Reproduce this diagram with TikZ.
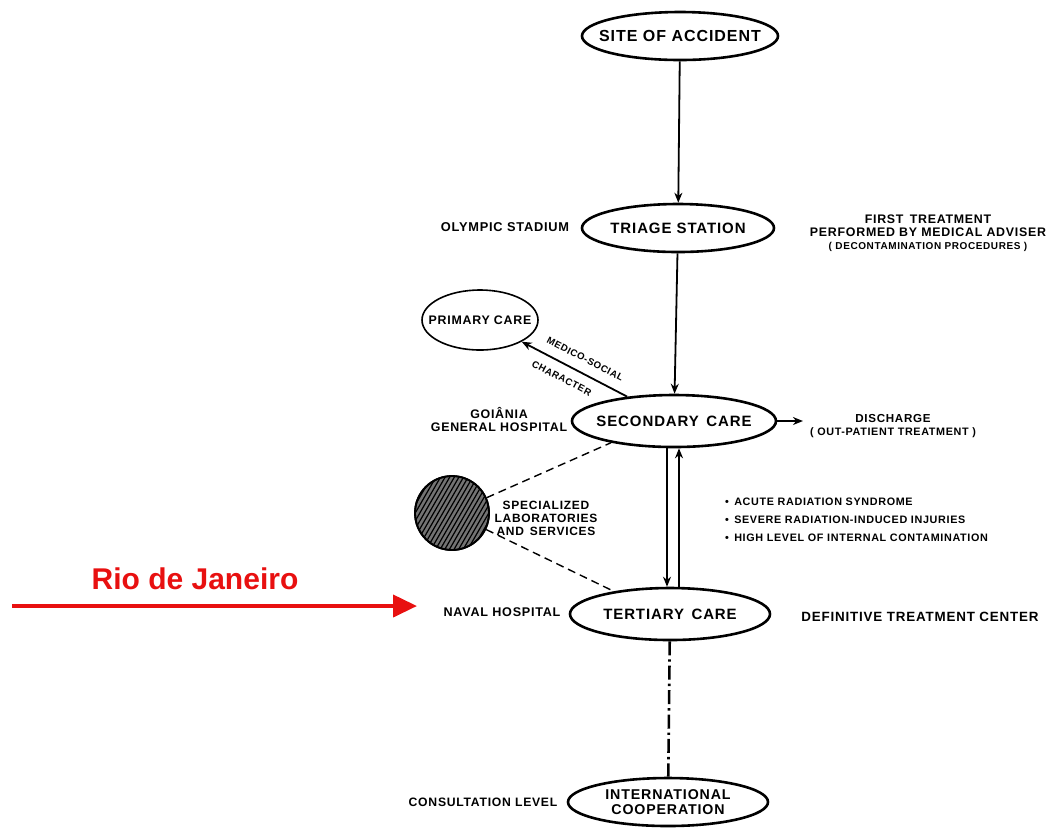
\documentclass[tikz,border=0pt]{standalone}
\usepackage{fontspec}
\setmainfont{Liberation Sans}[LetterSpace=6]
\newfontfamily\riofont{Liberation Sans}
\usetikzlibrary{shapes.geometric,arrows.meta}
\definecolor{rioRed}{RGB}{232,16,16}
\newcommand{\fs}[2]{\fontsize{#1}{#2}\selectfont\bfseries}

\begin{document}
\begin{tikzpicture}[x=0.5pt,y=-0.5pt,
    stage/.style={ellipse,draw,line width=1.3pt,inner xsep=-12pt,inner ysep=0pt,font=\fs{7.5}{7.5},align=center},
    side/.style={font=\fs{6.4}{6.6},align=center},
    flow/.style={line width=0.9pt,-{Stealth[length=5pt,width=4pt]}},
    link/.style={line width=0.7pt,dash pattern=on 4pt off 2.5pt}]
  \useasboundingbox (0,0) rectangle (1047,827);

  \node[stage,minimum width=98pt,minimum height=24pt,font=\fs{8}{8}] (site) at (680,36) {SITE OF ACCIDENT};
  \node[stage,minimum width=96pt,minimum height=24pt] (triage) at (678,228) {TRIAGE STATION};
  \node[stage,minimum width=102pt,minimum height=26pt] (sec) at (674,421) {SECONDARY\enspace CARE};
  \node[stage,minimum width=100pt,minimum height=26pt] (tert) at (670,614) {TERTIARY\enspace CARE};
  \node[stage,minimum width=100pt,minimum height=24pt,font=\fs{7.1}{7.4}] (intl) at (668,802) {INTERNATIONAL\\COOPERATION};
  \node[stage,line width=0.8pt,minimum width=58pt,minimum height=30pt,font=\fs{6.2}{6.2}] (prim) at (480,320) {PRIMARY CARE};
  \node[circle,draw,line width=0.9pt,minimum size=37pt,fill=black!55] (lab) at (452,513) {};

  \begin{scope}
    \clip (lab.center) circle (18.5pt);
    \foreach \k in {-14,...,14}
      \draw[line width=0.6pt] ([xshift=\k*2.3pt]lab.center) +(60:-30pt) -- +(60:30pt);
  \end{scope}
  \draw[line width=0.9pt] (lab.center) circle (18.5pt);

  \node[side] (olym) at (505,227) {OLYMPIC STADIUM};
  \node[side,font=\fs{6.2}{6.6}] (first) at (928,233) {FIRST\enspace TREATMENT\\PERFORMED BY MEDICAL ADVISER\\{\fs{5}{6.6}( DECONTAMINATION PROCEDURES )}};
  \node[side,font=\fs{6.2}{6.5}] (goia) at (499,419) {GOIÂNIA\\GENERAL HOSPITAL};
  \node[side,font=\fs{5.8}{6.5}] (dis) at (893,426) {DISCHARGE\\{\fs{5.4}{6.5}( OUT-PATIENT TREATMENT )}};
  \node[side,font=\fs{6}{6.5}] (labtxt) at (546,518) {SPECIALIZED\\LABORATORIES\\AND\enspace SERVICES};
  \node[side,font=\fs{5.4}{9},align=left,anchor=west] (list) at (718,520)
    {\textbullet\enspace ACUTE RADIATION SYNDROME\\\textbullet\enspace SEVERE RADIATION-INDUCED INJURIES\\\textbullet\enspace HIGH LEVEL OF INTERNAL CONTAMINATION};
  \node[side,font=\fs{6.3}{6.6}] (naval) at (502,612) {NAVAL HOSPITAL};
  \node[side,font=\fs{6.7}{6.6}] (defin) at (920,617) {DEFINITIVE TREATMENT CENTER};
  \node[side,font=\fs{6.1}{6.6}] (consult) at (483,802) {CONSULTATION LEVEL};
  \node[font=\riofont\fontsize{15}{15}\selectfont\bfseries,text=rioRed] (rio) at (195,579) {Rio de Janeiro};

  \coordinate (rioA) at (12,606);
  \coordinate (rioB) at (417,606);

  \draw[flow] (site) -- (triage);
  \draw[flow] (triage) -- (sec);
  \draw[flow] (sec) -- node[sloped,above=1.5pt,pos=0.46,font=\fs{4.8}{5}] (medsoc) {MEDICO-SOCIAL}
    node[sloped,below=1.5pt,pos=0.56,font=\fs{4.8}{5}] (charac) {CHARACTER} (prim);
  \draw[flow] (sec.east) -- (sec.east -| dis.west);
  \draw[flow] ([xshift=-3.5pt]sec.south) -- ([xshift=-3.5pt]sec.south |- tert.north);
  \draw[flow] ([xshift=2.5pt]sec.south |- tert.north) -- ([xshift=2.5pt]sec.south);
  \draw[link] (lab) -- (sec.199);
  \draw[link] (lab) -- (tert.158);
  \draw[line width=1.3pt,dash pattern=on 7pt off 2pt on 1.2pt off 2pt] (tert) -- (intl);
  \draw[rioRed,line width=2pt,-{Triangle[length=12pt,width=11pt]}] (rioA) -- (rioB);
\end{tikzpicture}
\end{document}
